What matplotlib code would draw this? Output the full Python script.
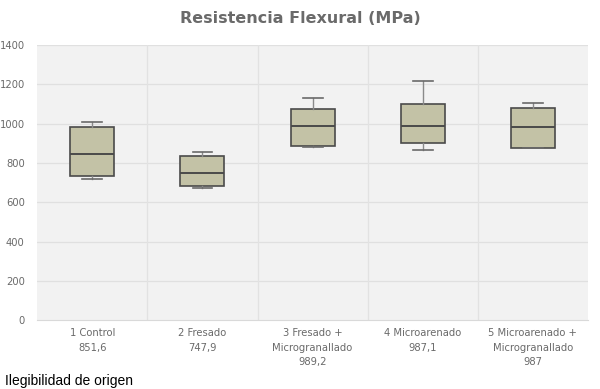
import numpy as np
import matplotlib.pyplot as plt

labels = ["1 Control\n851,6", "2 Fresado\n747,9", "3 Fresado +\nMicrogranallado\n989,2",
          "4 Microarenado\n987,1", "5 Microarenado +\nMicrogranallado\n987"]
whislo = [716, 673, 879, 867, 875]
q1 = [736, 682, 887, 902, 875]
med = [845, 750, 987, 987, 984]
q3 = [981, 836, 1077, 1098, 1080]
whishi = [1011, 856, 1131, 1216, 1104]

stats = []
for i in range(len(labels)):
    stats.append(dict(label=labels[i], whislo=whislo[i], q1=q1[i], med=med[i],
                      q3=q3[i], whishi=whishi[i], fliers=[]))

fig = plt.figure(figsize=(6, 3.89), dpi=100)
ax = fig.add_axes([0.062, 0.177, 0.918, 0.707])
ax.set_facecolor("#f2f2f2")

ax.bxp(stats, positions=np.arange(1, 6), widths=0.4, patch_artist=True,
       boxprops=dict(facecolor="#c3c2a6", edgecolor="#4a4a4a", linewidth=1.2),
       medianprops=dict(color="#4a4a4a", linewidth=1.4),
       whiskerprops=dict(color="#8a8a8a", linewidth=1),
       capprops=dict(color="#6a6a6a", linewidth=1.2), capwidths=0.18)

ax.set_xlim(0.5, 5.5)
ax.set_ylim(0, 1400)
ax.set_yticks(np.arange(0, 1401, 200))
ax.set_xticks(np.arange(1, 6))
ax.set_xticklabels(labels, fontsize=7.2, color="#6a6a6a", linespacing=1.55)
ax.tick_params(axis="y", labelsize=7.2, labelcolor="#6a6a6a", length=0, pad=9)
ax.tick_params(axis="x", length=0, pad=6)
for y in np.arange(200, 1401, 200):
    ax.axhline(y, color="#e0e0e0", linewidth=0.9, zorder=0)
for x in np.arange(1.5, 5.5, 1):
    ax.axvline(x, color="#e2e2e2", linewidth=0.9, zorder=0)
for s in ["top", "right", "left"]:
    ax.spines[s].set_visible(False)
ax.spines["bottom"].set_color("#d9d9d9")

fig.text(0.5, 0.953, "Resistencia Flexural (MPa)", ha="center", va="center",
         fontsize=11.5, fontweight="bold", color="#6a6a6a")
fig.text(0.008, 0.003, "Ilegibilidad de origen", ha="left", va="bottom",
         fontsize=10, family="Liberation Sans", color="black")

fig.savefig("out.png", dpi=100)
